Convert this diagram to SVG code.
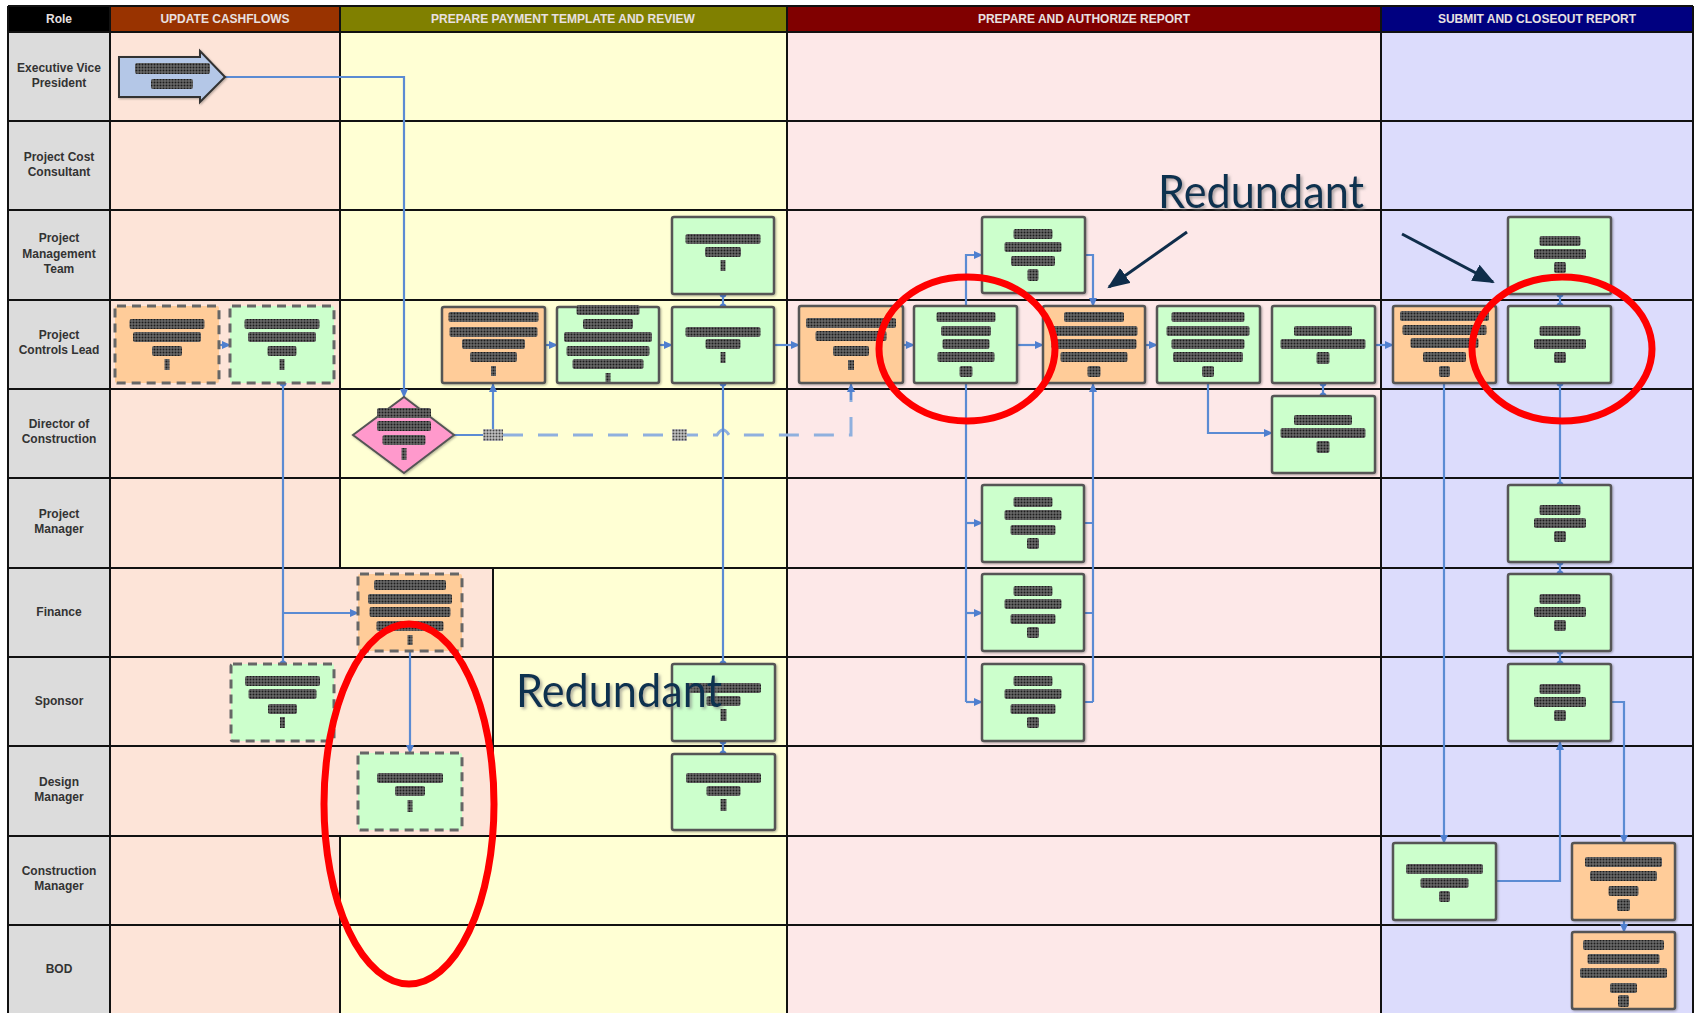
<svg xmlns="http://www.w3.org/2000/svg" width="1700" height="1013" viewBox="0 0 1700 1013">
<style>
.hdr{font-family:"Liberation Sans",Arial,sans-serif;font-size:12px;font-weight:bold;fill:#e8e0e0;text-anchor:middle}
.role{font-family:"Liberation Sans",Arial,sans-serif;font-size:12px;font-weight:bold;fill:#333;text-anchor:middle}
.grid{stroke:#111;stroke-width:2;fill:none}
.g{fill:#ccffcc;stroke:#555;stroke-width:2.5}
.o{fill:#ffcc99;stroke:#555;stroke-width:2.5}
.gd{fill:#ccffcc;stroke:#666;stroke-width:3;stroke-dasharray:9 6}
.od{fill:#ffcc99;stroke:#666;stroke-width:3;stroke-dasharray:9 6}
.t{fill:url(#dots)}
.lbl{fill:url(#ldots)}
.c{fill:none;stroke:#5b8bd3;stroke-width:2.2}
.ca{fill:none;stroke:#5b8bd3;stroke-width:2.2;marker-end:url(#ah)}
.cd{fill:none;stroke:#8fb0de;stroke-width:3;stroke-dasharray:20 15}
.dot{fill:#4f7fcf}
.red{fill:none;stroke:#ff0000;stroke-width:7}
.ann{font-family:Lato,"Open Sans","Liberation Sans",sans-serif;font-size:46px;fill:#10304f;filter:url(#sh)}
.ar{stroke:#0f2d4a;stroke-width:3;fill:none;marker-end:url(#nh)}
</style>
<defs>
<pattern id="dots" width="3" height="3" patternUnits="userSpaceOnUse"><rect width="3" height="3" fill="#7a7a7a"/><rect x="0.5" y="0.5" width="2" height="2" fill="#1c1c1c"/></pattern>
<pattern id="ldots" width="3" height="3" patternUnits="userSpaceOnUse"><rect width="3" height="3" fill="#dddddd"/><rect x="0.5" y="0.5" width="2" height="2" fill="#444"/></pattern>
<marker id="ah" markerWidth="10" markerHeight="10" refX="8" refY="4" orient="auto" markerUnits="userSpaceOnUse"><path d="M0,0 L9,4 L0,8 z" fill="#4f7fcf"/></marker>
<marker id="nh" markerWidth="30" markerHeight="30" refX="20" refY="9" orient="auto" markerUnits="userSpaceOnUse"><path d="M0,0 L22,9 L0,18 z" fill="#0f2d4a"/></marker>
<filter id="sh" x="-10%" y="-20%" width="130%" height="150%"><feDropShadow dx="2" dy="2" stdDeviation="1.5" flood-color="#777" flood-opacity="0.6"/></filter>
<filter id="ns" x="-5%" y="-5%" width="115%" height="115%"><feDropShadow dx="1" dy="1" stdDeviation="1" flood-color="#000" flood-opacity="0.3"/></filter>
</defs>

<g id="background">
<rect x="0" y="0" width="1700" height="1013" fill="#ffffff"/>
<rect x="8" y="32" width="102" height="981" fill="#dcdcdc"/>
<rect x="110" y="32" width="230" height="981" fill="#fde4d8"/>
<rect x="340" y="32" width="447" height="981" fill="#ffffd4"/>
<rect x="340" y="568" width="153" height="268" fill="#fde4d8"/>
<rect x="787" y="32" width="594" height="981" fill="#fde8e8"/>
<rect x="1381" y="32" width="312" height="981" fill="#dcdcfc"/>
</g>

<g id="header">
<rect x="8" y="6" width="102" height="26" fill="#000000"/>
<rect x="110" y="6" width="230" height="26" fill="#993300"/>
<rect x="340" y="6" width="447" height="26" fill="#808000"/>
<rect x="787" y="6" width="594" height="26" fill="#800000"/>
<rect x="1381" y="6" width="312" height="26" fill="#000080"/>
<text class="hdr" x="59" y="23">Role</text>
<text class="hdr" x="225" y="23">UPDATE CASHFLOWS</text>
<text class="hdr" x="563" y="23">PREPARE PAYMENT TEMPLATE AND REVIEW</text>
<text class="hdr" x="1084" y="23">PREPARE AND AUTHORIZE REPORT</text>
<text class="hdr" x="1537" y="23">SUBMIT AND CLOSEOUT REPORT</text>
</g>

<g id="gridlines" class="grid">
<path d="M8,6 H1693 M8,32 H1693 M8,121 H1693 M8,210 H1693 M8,300 H1693 M8,389 H1693 M8,478 H1693 M8,568 H1693 M8,657 H1693 M8,746 H1693 M8,836 H1693 M8,925 H1693"/>
<path d="M8,6 V1013 M110,6 V1013 M340,6 V568 M493,568 V836 M340,836 V1013 M787,6 V1013 M1381,6 V1013 M1693,6 V1013"/>
</g>

<g id="roles">
<text class="role" x="59" y="72">Executive Vice</text><text class="role" x="59" y="87">President</text>
<text class="role" x="59" y="161">Project Cost</text><text class="role" x="59" y="176">Consultant</text>
<text class="role" x="59" y="242">Project</text><text class="role" x="59" y="258">Management</text><text class="role" x="59" y="273">Team</text>
<text class="role" x="59" y="339">Project</text><text class="role" x="59" y="354">Controls Lead</text>
<text class="role" x="59" y="428">Director of</text><text class="role" x="59" y="443">Construction</text>
<text class="role" x="59" y="518">Project</text><text class="role" x="59" y="533">Manager</text>
<text class="role" x="59" y="616">Finance</text>
<text class="role" x="59" y="705">Sponsor</text>
<text class="role" x="59" y="786">Design</text><text class="role" x="59" y="801">Manager</text>
<text class="role" x="59" y="875">Construction</text><text class="role" x="59" y="890">Manager</text>
<text class="role" x="59" y="973">BOD</text>
</g>

<g id="connectors">
<path class="ca" d="M225,77 H404 V397"/>
<path class="ca" d="M219,345 H230"/>
<path class="c" d="M283,383 V664"/>
<path class="ca" d="M283,613 H358"/>
<path class="ca" d="M410,651 V753"/>
<path class="c" d="M454,435 H493"/>
<path class="ca" d="M493,432 V384"/>
<path class="cd" d="M503,435 H717 Q723,425 729,435 H851 V392"/>
<path class="ca" d="M851,400 V384"/>
<path class="ca" d="M545,345 H557"/>
<path class="ca" d="M659,345 H672"/>
<path class="c" d="M723,294 V307"/>
<path class="c" d="M723,383 V664"/>
<path class="c" d="M723,741 V754"/>
<path class="ca" d="M774,345 H799"/>
<path class="ca" d="M903,345 H914"/>
<path class="ca" d="M966,306 V255 H982"/>
<path class="ca" d="M1085,255 H1093 V306"/>
<path class="ca" d="M1017,345 H1043"/>
<path class="c" d="M966,383 V702"/>
<path class="ca" d="M966,523 H982"/>
<path class="ca" d="M966,613 H982"/>
<path class="ca" d="M966,702 H982"/>
<path class="c" d="M1084,523 H1093 M1084,613 H1093 M1084,702 H1093"/>
<path class="ca" d="M1093,702 V384"/>
<path class="ca" d="M1145,345 H1157"/>
<path class="ca" d="M1208,383 V433 H1272"/>
<path class="c" d="M1323,383 V396"/>
<path class="ca" d="M1375,345 H1393"/>
<path class="ca" d="M1444,383 V843"/>
<path class="c" d="M1560,294 V306"/>
<path class="c" d="M1560,383 V485"/>
<path class="c" d="M1560,562 V574"/>
<path class="c" d="M1560,651 V664"/>
<path class="ca" d="M1496,881 H1560 V742"/>
<path class="ca" d="M1611,702 H1624 V843"/>
<path class="ca" d="M1624,920 V932"/>
<g class="dot">
<circle cx="283" cy="383" r="3.5"/><circle cx="283" cy="664" r="3.5"/>
<circle cx="723" cy="294" r="3.5"/><circle cx="723" cy="307" r="3.5"/>
<circle cx="723" cy="383" r="3.5"/><circle cx="723" cy="664" r="3.5"/>
<circle cx="723" cy="741" r="3.5"/><circle cx="723" cy="754" r="3.5"/>
<circle cx="1323" cy="383" r="3.5"/><circle cx="1323" cy="396" r="3.5"/>
<circle cx="1560" cy="294" r="3.5"/><circle cx="1560" cy="306" r="3.5"/>
<circle cx="1560" cy="383" r="3.5"/><circle cx="1560" cy="485" r="3.5"/>
<circle cx="1560" cy="562" r="3.5"/><circle cx="1560" cy="574" r="3.5"/>
<circle cx="1560" cy="651" r="3.5"/><circle cx="1560" cy="664" r="3.5"/>
</g>
<rect class="lbl" x="483" y="429" width="20" height="12"/>
<rect class="lbl" x="672" y="429" width="15" height="12"/>
</g>

<g id="n-evp-start">
<path d="M119,57 H200 V51 L225,77 L200,102 V97 H119 Z" fill="#b4c7e7" stroke="#333" stroke-width="2" filter="url(#ns)"/>
<rect class="t" x="135" y="63" width="75" height="11" rx="2"/>
<rect class="t" x="151" y="79" width="42" height="10" rx="2"/>
</g>

<g id="n-pcl-1">
<rect class="od" x="115" y="306" width="104" height="77" rx="2"/>
<rect class="t" x="129.5" y="319" width="75" height="10" rx="2"/>
<rect class="t" x="133" y="332" width="68" height="10" rx="2"/>
<rect class="t" x="152" y="346" width="30" height="10" rx="2"/>
<rect class="t" x="164.5" y="359" width="5" height="11"/>
</g>
<g id="n-pcl-2">
<rect class="gd" x="230" y="306" width="104" height="77" rx="2"/>
<rect class="t" x="244.5" y="319" width="75" height="10" rx="2"/>
<rect class="t" x="248" y="332" width="68" height="10" rx="2"/>
<rect class="t" x="267.5" y="346" width="29" height="10" rx="2"/>
<rect class="t" x="279.5" y="359" width="5" height="11"/>
</g>
<g id="n-fin-1">
<rect class="od" x="358" y="574" width="104" height="77" rx="2"/>
<rect class="t" x="374" y="580" width="72" height="10" rx="2"/>
<rect class="t" x="368" y="594" width="84" height="10" rx="2"/>
<rect class="t" x="369.5" y="607" width="81" height="10" rx="2"/>
<rect class="t" x="376.5" y="621" width="67" height="10" rx="2"/>
<rect class="t" x="407.5" y="635" width="5" height="10"/>
</g>
<g id="n-sp-1">
<rect class="gd" x="231" y="664" width="103" height="77" rx="2"/>
<rect class="t" x="245" y="676" width="75" height="10" rx="2"/>
<rect class="t" x="248.5" y="689" width="68" height="10" rx="2"/>
<rect class="t" x="268" y="704" width="29" height="10" rx="2"/>
<rect class="t" x="280" y="717" width="5" height="11"/>
</g>
<g id="n-dm-1">
<rect class="gd" x="358" y="753" width="104" height="77" rx="2"/>
<rect class="t" x="377" y="773" width="66" height="10" rx="2"/>
<rect class="t" x="395" y="786" width="30" height="10" rx="2"/>
<rect class="t" x="407.5" y="800" width="5" height="12"/>
</g>

<g id="n-doc-decision">
<path d="M404,397 L454,435 L404,473 L353,435 Z" fill="#ff99cc" stroke="#555" stroke-width="2" filter="url(#ns)"/>
<rect class="t" x="377" y="408" width="54" height="10" rx="2"/>
<rect class="t" x="377" y="421" width="54" height="10" rx="2"/>
<rect class="t" x="382.5" y="435" width="43" height="10" rx="2"/>
<rect class="t" x="401.5" y="448" width="5" height="12"/>
</g>

<g id="n-pcl-3" filter="url(#ns)">
<rect class="o" x="442" y="307" width="103" height="76" rx="2"/>
<rect class="t" x="448.5" y="312" width="90" height="10" rx="2"/>
<rect class="t" x="449.5" y="327" width="88" height="10" rx="2"/>
<rect class="t" x="462" y="339" width="63" height="10" rx="2"/>
<rect class="t" x="470" y="352" width="47" height="10" rx="2"/>
<rect class="t" x="491" y="366" width="5" height="10"/>
</g>
<g id="n-pcl-4" filter="url(#ns)">
<rect class="g" x="557" y="307" width="102" height="76" rx="2"/>
<rect class="t" x="576.5" y="305" width="63" height="10" rx="2"/>
<rect class="t" x="583" y="319" width="50" height="10" rx="2"/>
<rect class="t" x="564" y="332" width="88" height="10" rx="2"/>
<rect class="t" x="566.5" y="346" width="83" height="10" rx="2"/>
<rect class="t" x="572.5" y="359" width="71" height="10" rx="2"/>
<rect class="t" x="605.5" y="373" width="5" height="9"/>
</g>
<g id="n-pcl-5" filter="url(#ns)">
<rect class="g" x="672" y="307" width="102" height="76" rx="2"/>
<rect class="t" x="685.5" y="327" width="75" height="10" rx="2"/>
<rect class="t" x="705.5" y="339" width="35" height="10" rx="2"/>
<rect class="t" x="720.5" y="352" width="5" height="11"/>
</g>
<g id="n-pmt-1" filter="url(#ns)">
<rect class="g" x="672" y="217" width="102" height="77" rx="2"/>
<rect class="t" x="685.5" y="234" width="75" height="10" rx="2"/>
<rect class="t" x="705" y="247" width="36" height="10" rx="2"/>
<rect class="t" x="720.5" y="260" width="5" height="11"/>
</g>
<g id="n-sp-2" filter="url(#ns)">
<rect class="g" x="672" y="664" width="103" height="77" rx="2"/>
<rect class="t" x="686" y="683" width="75" height="10" rx="2"/>
<rect class="t" x="706.5" y="696" width="34" height="10" rx="2"/>
<rect class="t" x="720.5" y="709" width="6" height="12"/>
</g>
<g id="n-dm-2" filter="url(#ns)">
<rect class="g" x="672" y="754" width="103" height="76" rx="2"/>
<rect class="t" x="686" y="773" width="75" height="10" rx="2"/>
<rect class="t" x="706.5" y="786" width="34" height="10" rx="2"/>
<rect class="t" x="720.5" y="799" width="6" height="12"/>
</g>

<g id="n-pcl-6" filter="url(#ns)">
<rect class="o" x="799" y="306" width="104" height="77" rx="2"/>
<rect class="t" x="806" y="318" width="90" height="10" rx="2"/>
<rect class="t" x="815.5" y="331" width="71" height="10" rx="2"/>
<rect class="t" x="833" y="346" width="36" height="10" rx="2"/>
<rect class="t" x="848" y="360" width="6" height="10"/>
</g>
<g id="n-pcl-7" filter="url(#ns)">
<rect class="g" x="914" y="306" width="103" height="77" rx="2"/>
<rect class="t" x="936.5" y="312" width="59" height="10" rx="2"/>
<rect class="t" x="941" y="326" width="50" height="10" rx="2"/>
<rect class="t" x="942.5" y="339" width="47" height="10" rx="2"/>
<rect class="t" x="937.5" y="352" width="57" height="10" rx="2"/>
<rect class="t" x="959.5" y="366" width="13" height="11" rx="2"/>
</g>
<g id="n-pmt-2" filter="url(#ns)">
<rect class="g" x="982" y="217" width="103" height="76" rx="2"/>
<rect class="t" x="1013.5" y="229" width="39" height="10" rx="2"/>
<rect class="t" x="1004.5" y="242" width="57" height="10" rx="2"/>
<rect class="t" x="1011" y="256" width="44" height="10" rx="2"/>
<rect class="t" x="1027.5" y="269" width="11" height="12" rx="2"/>
</g>
<g id="n-pcl-8" filter="url(#ns)">
<rect class="o" x="1043" y="306" width="102" height="77" rx="2"/>
<rect class="t" x="1064" y="312" width="60" height="10" rx="2"/>
<rect class="t" x="1050.5" y="326" width="87" height="10" rx="2"/>
<rect class="t" x="1051.5" y="339" width="85" height="10" rx="2"/>
<rect class="t" x="1060.5" y="352" width="67" height="10" rx="2"/>
<rect class="t" x="1087.5" y="366" width="13" height="11" rx="2"/>
</g>
<g id="n-pcl-9" filter="url(#ns)">
<rect class="g" x="1157" y="306" width="103" height="77" rx="2"/>
<rect class="t" x="1171.5" y="312" width="73" height="10" rx="2"/>
<rect class="t" x="1166.5" y="326" width="83" height="10" rx="2"/>
<rect class="t" x="1171.5" y="339" width="73" height="10" rx="2"/>
<rect class="t" x="1173" y="352" width="70" height="10" rx="2"/>
<rect class="t" x="1202" y="366" width="12" height="11" rx="2"/>
</g>
<g id="n-pcl-10" filter="url(#ns)">
<rect class="g" x="1272" y="306" width="103" height="77" rx="2"/>
<rect class="t" x="1294" y="326" width="58" height="10" rx="2"/>
<rect class="t" x="1280.5" y="339" width="85" height="10" rx="2"/>
<rect class="t" x="1316.5" y="352" width="13" height="12" rx="2"/>
</g>
<g id="n-doc-1" filter="url(#ns)">
<rect class="g" x="1272" y="396" width="103" height="77" rx="2"/>
<rect class="t" x="1294" y="415" width="58" height="10" rx="2"/>
<rect class="t" x="1280.5" y="428" width="85" height="10" rx="2"/>
<rect class="t" x="1316.5" y="441" width="13" height="12" rx="2"/>
</g>
<g id="n-pm-1" filter="url(#ns)">
<rect class="g" x="982" y="485" width="102" height="77" rx="2"/>
<rect class="t" x="1013.5" y="497" width="39" height="10" rx="2"/>
<rect class="t" x="1004.5" y="510" width="57" height="10" rx="2"/>
<rect class="t" x="1010.5" y="525" width="45" height="10" rx="2"/>
<rect class="t" x="1027" y="538" width="12" height="11" rx="2"/>
</g>
<g id="n-fin-2" filter="url(#ns)">
<rect class="g" x="982" y="574" width="102" height="77" rx="2"/>
<rect class="t" x="1013.5" y="586" width="39" height="10" rx="2"/>
<rect class="t" x="1004.5" y="599" width="57" height="10" rx="2"/>
<rect class="t" x="1010.5" y="614" width="45" height="10" rx="2"/>
<rect class="t" x="1027" y="627" width="12" height="11" rx="2"/>
</g>
<g id="n-sp-3" filter="url(#ns)">
<rect class="g" x="982" y="664" width="102" height="77" rx="2"/>
<rect class="t" x="1013.5" y="676" width="39" height="10" rx="2"/>
<rect class="t" x="1004.5" y="689" width="57" height="10" rx="2"/>
<rect class="t" x="1010.5" y="704" width="45" height="10" rx="2"/>
<rect class="t" x="1027" y="717" width="12" height="11" rx="2"/>
</g>

<g id="n-pcl-11" filter="url(#ns)">
<rect class="o" x="1393" y="306" width="103" height="77" rx="2"/>
<rect class="t" x="1400" y="311" width="89" height="10" rx="2"/>
<rect class="t" x="1402.5" y="325" width="84" height="10" rx="2"/>
<rect class="t" x="1410.5" y="338" width="68" height="10" rx="2"/>
<rect class="t" x="1423" y="352" width="43" height="10" rx="2"/>
<rect class="t" x="1439" y="366" width="11" height="11" rx="2"/>
</g>
<g id="n-pmt-3" filter="url(#ns)">
<rect class="g" x="1508" y="217" width="103" height="77" rx="2"/>
<rect class="t" x="1539.5" y="236" width="41" height="10" rx="2"/>
<rect class="t" x="1534" y="249" width="52" height="10" rx="2"/>
<rect class="t" x="1554" y="262" width="12" height="11" rx="2"/>
</g>
<g id="n-pcl-12" filter="url(#ns)">
<rect class="g" x="1508" y="306" width="103" height="77" rx="2"/>
<rect class="t" x="1539.5" y="326" width="41" height="10" rx="2"/>
<rect class="t" x="1534" y="339" width="52" height="10" rx="2"/>
<rect class="t" x="1554" y="352" width="12" height="11" rx="2"/>
</g>
<g id="n-pm-2" filter="url(#ns)">
<rect class="g" x="1508" y="485" width="103" height="77" rx="2"/>
<rect class="t" x="1539.5" y="505" width="41" height="10" rx="2"/>
<rect class="t" x="1534" y="518" width="52" height="10" rx="2"/>
<rect class="t" x="1554" y="531" width="12" height="11" rx="2"/>
</g>
<g id="n-fin-3" filter="url(#ns)">
<rect class="g" x="1508" y="574" width="103" height="77" rx="2"/>
<rect class="t" x="1539.5" y="594" width="41" height="10" rx="2"/>
<rect class="t" x="1534" y="607" width="52" height="10" rx="2"/>
<rect class="t" x="1554" y="620" width="12" height="11" rx="2"/>
</g>
<g id="n-sp-4" filter="url(#ns)">
<rect class="g" x="1508" y="664" width="103" height="77" rx="2"/>
<rect class="t" x="1539.5" y="684" width="41" height="10" rx="2"/>
<rect class="t" x="1534" y="697" width="52" height="10" rx="2"/>
<rect class="t" x="1554" y="710" width="12" height="11" rx="2"/>
</g>
<g id="n-cm-1" filter="url(#ns)">
<rect class="g" x="1393" y="843" width="103" height="77" rx="2"/>
<rect class="t" x="1406" y="864" width="77" height="10" rx="2"/>
<rect class="t" x="1420.5" y="878" width="48" height="10" rx="2"/>
<rect class="t" x="1439" y="891" width="11" height="11" rx="2"/>
</g>
<g id="n-cm-2" filter="url(#ns)">
<rect class="o" x="1572" y="843" width="103" height="77" rx="2"/>
<rect class="t" x="1585" y="857" width="77" height="10" rx="2"/>
<rect class="t" x="1590" y="871" width="67" height="10" rx="2"/>
<rect class="t" x="1608.5" y="886" width="30" height="10" rx="2"/>
<rect class="t" x="1617" y="899" width="13" height="12" rx="2"/>
</g>
<g id="n-bod-1" filter="url(#ns)">
<rect class="o" x="1572" y="932" width="103" height="77" rx="2"/>
<rect class="t" x="1583" y="940" width="81" height="10" rx="2"/>
<rect class="t" x="1587.5" y="954" width="72" height="10" rx="2"/>
<rect class="t" x="1580" y="968" width="87" height="10" rx="2"/>
<rect class="t" x="1610" y="983" width="27" height="10" rx="2"/>
<rect class="t" x="1618" y="995" width="11" height="12" rx="2"/>
</g>

<g id="annotations">
<ellipse class="red" cx="967" cy="349" rx="88" ry="72"/>
<ellipse class="red" cx="1562" cy="349" rx="90" ry="72"/>
<ellipse class="red" cx="409" cy="804" rx="85" ry="180"/>
<text class="ann" x="1158" y="208" textLength="206" lengthAdjust="spacingAndGlyphs">Redundant</text>
<text class="ann" x="516" y="707" textLength="206" lengthAdjust="spacingAndGlyphs">Redundant</text>
<line class="ar" x1="1187" y1="232" x2="1109" y2="287"/>
<line class="ar" x1="1402" y1="234" x2="1493" y2="282"/>
</g>
</svg>
